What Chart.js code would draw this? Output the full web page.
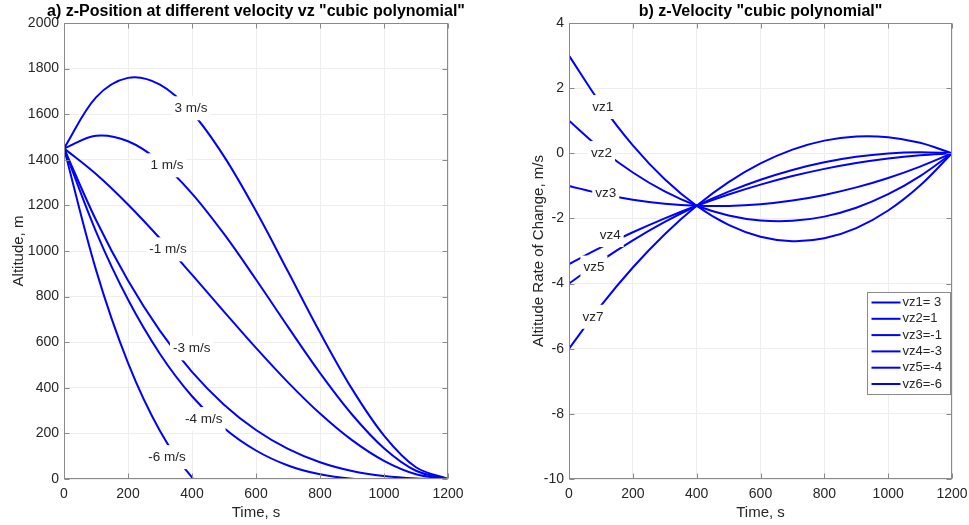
<!DOCTYPE html>
<html><head><meta charset="utf-8">
<script src="https://cdn.jsdelivr.net/npm/chart.js@4.4.1/dist/chart.umd.min.js"></script>
<style>
html,body{margin:0;padding:0;background:#fff;width:969px;height:525px;overflow:hidden}
#wl{position:absolute;left:0;top:0;width:500px;height:525px}
#wr{position:absolute;left:484px;top:0;width:495px;height:525px}
</style></head><body>
<div id="wl"><canvas id="cl"></canvas></div>
<div id="wr"><canvas id="cr"></canvas></div>
<script>
// ---- data ----
const TIME = [0,100,200,300,400,500,600,700,800,900,1000,1100,1200];

const POS_LABELS = ['3 m/s','1 m/s','-1 m/s','-3 m/s','-4 m/s','-6 m/s'];
const POS_P3  = [1450,1673.6,1759.3,1729.7,1607.4,1415.0,1175,910.0,642.6,395.3,190.7,51.5,0];
const POS_P1  = [1450,1505.5,1481.5,1392.2,1251.9,1074.7,875,667.0,464.8,282.8,135.2,36.2,0];
const POS_M1  = [1450,1337.4,1203.7,1054.7,896.3,734.4,575,423.9,287.0,170.3,79.6,20.9,0];
const POS_M3  = [1450,1135.8,870.4,649.7,469.6,326.1,215,132.2,73.7,35.3,13.0,2.5,0];
const POS_M4  = [1450,1085.4,787.0,548.4,363.0,224.0,125,59.3,20.4,1.6,-3.7,-2.0,0];
const POS_M6  = [1450,917.3,509.3,210.9,7.4,-116.3,-175,-183.7,-157.4,-110.9,-59.3,-17.3,0];

const VEL_LEGEND = ['vz1= 3','vz2=1','vz3=-1','vz4=-3','vz5=-4','vz6=-6'];
const VEL_1 = [3,1.509,0.243,-0.797,-1.611,-2.200,-2.563,-2.700,-2.611,-2.297,-1.757,-0.991,0];
const VEL_2 = [1,0.134,-0.590,-1.172,-1.611,-1.908,-2.063,-2.075,-1.944,-1.672,-1.257,-0.700,0];
const VEL_3 = [-1,-1.241,-1.424,-1.547,-1.611,-1.616,-1.563,-1.450,-1.278,-1.047,-0.757,-0.408,0];
const VEL_4 = [-3.4,-2.891,-2.424,-1.997,-1.611,-1.266,-0.963,-0.700,-0.478,-0.297,-0.157,-0.058,0];
const VEL_5 = [-4,-3.304,-2.674,-2.109,-1.611,-1.179,-0.813,-0.512,-0.278,-0.109,-0.007,0.030,0];
const VEL_6 = [-6,-4.679,-3.507,-2.484,-1.611,-0.887,-0.313,0.113,0.389,0.516,0.493,0.321,0];

const POS_YTICKS = {min:0,max:2000,step:200};
const VEL_YTICKS = {min:-10,max:4,step:2};
const XTICKS = {min:0,max:1200,step:200};

const LEFT_LABEL_TEXT = ['3 m/s','1 m/s','-1 m/s','-3 m/s','-4 m/s','-6 m/s'];
const LEFT_LABEL_T = [397,322,325,399,437,322];
const LEFT_LABEL_Z = [1626,1376,1007,573,263,96];
const RIGHT_LABEL_TEXT = ['vz1','vz2','vz3','vz4','vz5','vz7'];
const RIGHT_LABEL_T = [106,102,115,129,78,75];
const RIGHT_LABEL_V = [1.42,0.01,-1.24,-2.51,-3.51,-5.02];

// ---- styling ----
const FONT = '"Liberation Sans", Arial, Helvetica, sans-serif';
const TXT = '#262626';
const BLUE = '#0000ff';
const GRID = '#ededed';
const AXIS = '#8a8a8a';

function pts(ys){ return TIME.map((t,i)=>({x:t,y:ys[i]})); }
function ds(label, ys){
  return {label, data:pts(ys), borderColor:BLUE, backgroundColor:BLUE, borderWidth:2,
          pointRadius:0, tension:0.35, fill:false};
}

const boxPlugin = {
  id:'boxAxes',
  afterDraw(chart){
    const {ctx, chartArea:a, scales:{x,y}} = chart;
    const L=Math.round(a.left)+0.5, R=Math.round(a.right)-0.5, T=Math.round(a.top)+0.5, B=Math.round(a.bottom)-0.5;
    ctx.save();
    ctx.strokeStyle=AXIS; ctx.lineWidth=1;
    ctx.strokeRect(L,T,R-L,B-T);
    ctx.beginPath();
    x.ticks.forEach(tk=>{const p=Math.round(x.getPixelForValue(tk.value))+0.5;
      ctx.moveTo(p,B); ctx.lineTo(p,B-5); ctx.moveTo(p,T); ctx.lineTo(p,T+5);});
    y.ticks.forEach(tk=>{const p=Math.round(y.getPixelForValue(tk.value))+0.5;
      ctx.moveTo(L,p); ctx.lineTo(L+5,p); ctx.moveTo(R,p); ctx.lineTo(R-5,p);});
    ctx.stroke();
    ctx.restore();
  }
};

function labelPlugin(texts, xs, ys){
  return {
    id:'inlineLabels',
    afterDatasetsDraw(chart){
      const {ctx, chartArea:a, scales:{x,y}} = chart;
      ctx.save();
      ctx.beginPath(); ctx.rect(a.left,a.top,a.right-a.left,a.bottom-a.top); ctx.clip();
      ctx.font = '13.5px '+FONT;
      ctx.textAlign='center'; ctx.textBaseline='middle';
      texts.forEach((t,i)=>{
        const px=x.getPixelForValue(xs[i]), py=y.getPixelForValue(ys[i]);
        const w=ctx.measureText(t).width;
        ctx.fillStyle='#fff';
        ctx.fillRect(px-w/2-3, py-12, w+6, 24);
        ctx.fillStyle=TXT;
        ctx.fillText(t,px,py);
      });
      ctx.restore();
    }
  };
}

function titlePlugin(text){
  return {
    id:'topTitle',
    afterDraw(chart){
      const {ctx, chartArea:a} = chart;
      ctx.save();
      ctx.font='bold 16px '+FONT;
      ctx.fillStyle='#000';
      ctx.textAlign='center'; ctx.textBaseline='middle';
      ctx.fillText(text,(a.left+a.right)/2,12);
      ctx.restore();
    }
  };
}

const legendPlugin = {
  id:'boxLegend',
  afterDraw(chart){
    const {ctx, chartArea:a} = chart;
    const left=Math.round(a.right-85)+0.5, top=Math.round(a.top+269)+0.5, w=83, h=102;
    ctx.save();
    ctx.fillStyle='#fff'; ctx.fillRect(left,top,w,h);
    ctx.strokeStyle='#8a8a8a'; ctx.lineWidth=1; ctx.strokeRect(left,top,w,h);
    ctx.font='13px '+FONT; ctx.textBaseline='middle'; ctx.textAlign='left';
    chart.data.datasets.forEach((d,i)=>{
      const yy=top+10+i*16.3;
      ctx.strokeStyle=d.borderColor; ctx.lineWidth=2;
      ctx.beginPath(); ctx.moveTo(left+4,yy); ctx.lineTo(left+33,yy); ctx.stroke();
      ctx.fillStyle=TXT; ctx.fillText(d.label,left+35,yy);
    });
    ctx.restore();
  }
};

const plainTick = v => String(v);

function xScale(){
  return {type:'linear', min:XTICKS.min, max:XTICKS.max,
    ticks:{stepSize:XTICKS.step, color:TXT, font:{family:FONT,size:14}, padding:7, maxRotation:0, callback:plainTick},
    grid:{color:GRID, drawTicks:false}, border:{display:false},
    title:{display:true, text:'Time, s', color:TXT, font:{family:FONT,size:15}, padding:{top:0,bottom:3}},
    afterFit:s=>{s.height=46;}};
}
function yScale(lim, title, w, tpad){
  return {type:'linear', min:lim.min, max:lim.max,
    ticks:{stepSize:lim.step, color:TXT, font:{family:FONT,size:14}, padding:5, callback:plainTick},
    grid:{color:GRID, drawTicks:false}, border:{display:false},
    title:{display:true, text:title, color:TXT, font:{family:FONT,size:15}, padding:{top:tpad,bottom:0}},
    afterFit:s=>{s.width=w;}};
}

Chart.defaults.font.family = FONT;

new Chart(document.getElementById('cl'), {
  type:'line',
  data:{datasets:[ds(POS_LABELS[0],POS_P3),ds(POS_LABELS[1],POS_P1),ds(POS_LABELS[2],POS_M1),
                  ds(POS_LABELS[3],POS_M3),ds(POS_LABELS[4],POS_M4),ds(POS_LABELS[5],POS_M6)]},
  options:{responsive:true, maintainAspectRatio:false, animation:false, devicePixelRatio:1,
    layout:{padding:{top:23,right:52,left:0,bottom:0}},
    plugins:{legend:{display:false}, tooltip:{enabled:false}, title:{display:false}},
    scales:{x:xScale(), y:yScale(POS_YTICKS,'Altitude, m',64,10)}},
  plugins:[labelPlugin(LEFT_LABEL_TEXT,LEFT_LABEL_T,LEFT_LABEL_Z), boxPlugin,
           titlePlugin('a) z-Position at different velocity vz "cubic polynomial"')]
});

new Chart(document.getElementById('cr'), {
  type:'line',
  data:{datasets:[ds(VEL_LEGEND[0],VEL_1),ds(VEL_LEGEND[1],VEL_2),ds(VEL_LEGEND[2],VEL_3),
                  ds(VEL_LEGEND[3],VEL_4),ds(VEL_LEGEND[4],VEL_5),ds(VEL_LEGEND[5],VEL_6)]},
  options:{responsive:true, maintainAspectRatio:false, animation:false, devicePixelRatio:1,
    layout:{padding:{top:23,right:27,left:0,bottom:0}},
    plugins:{legend:{display:false}, tooltip:{enabled:false}, title:{display:false}},
    scales:{x:xScale(), y:yScale(VEL_YTICKS,'Altitude Rate of Change, m/s',85,46)}},
  plugins:[labelPlugin(RIGHT_LABEL_TEXT,RIGHT_LABEL_T,RIGHT_LABEL_V), boxPlugin, legendPlugin,
           titlePlugin('b) z-Velocity "cubic polynomial"')]
});
</script>
</body></html>
